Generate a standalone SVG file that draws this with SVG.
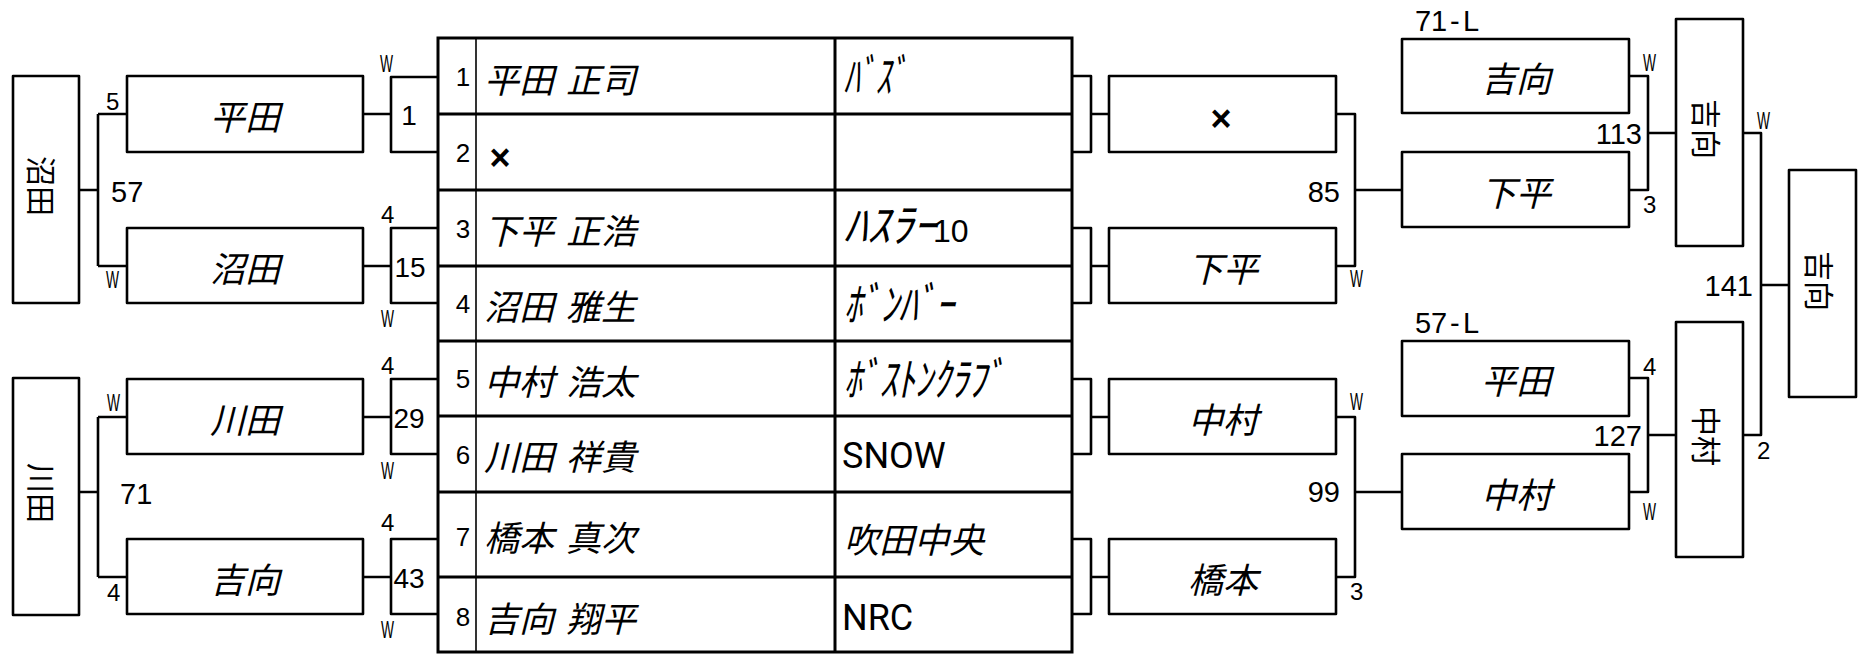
<svg xmlns="http://www.w3.org/2000/svg" width="1860" height="654" viewBox="0 0 1860 654">
<style>
.ln{fill:none;stroke:#000;stroke-width:2.6;stroke-linejoin:round}
.bx{fill:#fff;stroke:#000;stroke-width:2.6;stroke-linejoin:round}
.tb{fill:none;stroke:#000;stroke-width:3}
.thin{fill:none;stroke:#000;stroke-width:1.6}
.nm{font-family:"Noto Sans CJK JP","Noto Sans CJK SC",sans-serif;font-size:35px;font-style:italic;text-anchor:middle;dominant-baseline:central}
.tn{font-family:"Noto Sans CJK JP","Noto Sans CJK SC",sans-serif;font-size:35px;font-style:italic;dominant-baseline:central}
.kn{font-family:"Noto Sans CJK JP","Noto Sans CJK SC",sans-serif;font-size:46px;font-style:italic}
.dg{font-family:"Liberation Sans",Arial,sans-serif;font-size:32px;font-style:normal}
.ro{font-family:Roboto,"Liberation Sans",sans-serif;font-size:36px}
.vt{font-family:"Noto Sans CJK JP","Noto Sans CJK SC",sans-serif;font-size:30px;text-anchor:middle;dominant-baseline:central}
.big{font-family:"Liberation Sans",Arial,sans-serif;font-size:29px}
.end{text-anchor:end}
.sm{font-family:"Liberation Sans",Arial,sans-serif;font-size:24px}
.w{font-family:"Liberation Sans",Arial,sans-serif;font-size:23px}
.bn{font-family:"Liberation Sans",Arial,sans-serif;font-size:28px;text-anchor:middle}
.rn{font-family:"Liberation Sans",Arial,sans-serif;font-size:26px;text-anchor:middle}
.x{font-family:"Liberation Sans",Arial,sans-serif;font-size:36px;font-weight:bold;text-anchor:middle;dominant-baseline:central}
</style>

<g id="connectors">
<path class="ln" d="M79,190H98M98,114V266M98,114H127M98,266H127"/>
<path class="ln" d="M79,492H98M98,417V577M98,417H127M98,577H127"/>
<path class="ln" d="M363,114H391M438,77H391V152H438"/>
<path class="ln" d="M363,266H391M438,228H391V303H438"/>
<path class="ln" d="M363,417H391M438,379H391V454H438"/>
<path class="ln" d="M363,577H391M438,539H391V614H438"/>
<path class="ln" d="M1072,76H1091V152H1072M1091,114H1109"/>
<path class="ln" d="M1072,228H1091V303H1072M1091,266H1109"/>
<path class="ln" d="M1072,379H1091V454H1072M1091,417H1109"/>
<path class="ln" d="M1072,539H1091V614H1072M1091,577H1109"/>
<path class="ln" d="M1336,114H1355V266H1336M1355,190H1402"/>
<path class="ln" d="M1336,417H1355V577H1336M1355,492H1402"/>
<path class="ln" d="M1629,76H1648V190H1629M1648,133H1676"/>
<path class="ln" d="M1629,378H1648V492H1629M1648,435H1676"/>
<path class="ln" d="M1743,133H1761V435H1743M1761,285H1789"/>
</g>

<g id="labels">
<text class="sm" x="106" y="110">5</text>
<text class="w" x="106" y="288" textLength="13" lengthAdjust="spacingAndGlyphs">W</text>
<text class="big" x="111" y="202">57</text>
<text class="w" x="107" y="411" textLength="13" lengthAdjust="spacingAndGlyphs">W</text>
<text class="big" x="120" y="504">71</text>
<text class="sm" x="107" y="601">4</text>

<text class="w" x="380" y="72" textLength="13" lengthAdjust="spacingAndGlyphs">W</text>
<text class="sm" x="381" y="223">4</text>
<text class="w" x="381" y="327" textLength="13" lengthAdjust="spacingAndGlyphs">W</text>
<text class="sm" x="381" y="374">4</text>
<text class="w" x="381" y="479" textLength="13" lengthAdjust="spacingAndGlyphs">W</text>
<text class="sm" x="381" y="531">4</text>
<text class="w" x="381" y="638" textLength="13" lengthAdjust="spacingAndGlyphs">W</text>

<text class="bn" x="409" y="125">1</text>
<text class="bn" x="410" y="277">15</text>
<text class="bn" x="409" y="428">29</text>
<text class="bn" x="409" y="588">43</text>

<text class="big end" x="1340" y="202">85</text>
<text class="w" x="1350" y="287" textLength="13" lengthAdjust="spacingAndGlyphs">W</text>
<text class="w" x="1350" y="410" textLength="13" lengthAdjust="spacingAndGlyphs">W</text>
<text class="big end" x="1340" y="502">99</text>
<text class="sm" x="1350" y="600">3</text>

<text class="big" x="1415 1431 1450 1463" y="31">71-L</text>
<text class="big" x="1415 1431 1450 1463" y="333">57-L</text>

<text class="w" x="1643" y="71" textLength="13" lengthAdjust="spacingAndGlyphs">W</text>
<text class="big end" x="1642" y="144">113</text>
<text class="sm" x="1643" y="213">3</text>
<text class="sm" x="1643" y="375">4</text>
<text class="big end" x="1642" y="446">127</text>
<text class="w" x="1643" y="520" textLength="13" lengthAdjust="spacingAndGlyphs">W</text>

<text class="w" x="1757" y="129" textLength="13" lengthAdjust="spacingAndGlyphs">W</text>
<text class="big end" x="1753" y="296">141</text>
<text class="sm" x="1757" y="459">2</text>
</g>

<g id="block-numata">
<rect class="bx" x="13" y="76" width="66" height="227"/>
<text class="vt" transform="translate(43,186) rotate(90)">沼田</text>
</g>
<g id="block-kawata">
<rect class="bx" x="13" y="378" width="66" height="237"/>
<text class="vt" transform="translate(43,493) rotate(90)">川田</text>
</g>

<g id="r1-hirata"><rect class="bx" x="127" y="76" width="236" height="76"/><text class="nm" x="245" y="114">平田</text></g>
<g id="r1-numata"><rect class="bx" x="127" y="228" width="236" height="75"/><text class="nm" x="245" y="266">沼田</text></g>
<g id="r1-kawata"><rect class="bx" x="127" y="379" width="236" height="75"/><text class="nm" x="245" y="417">川田</text></g>
<g id="r1-yoshimukai"><rect class="bx" x="127" y="539" width="236" height="75"/><text class="nm" x="245" y="577">吉向</text></g>

<g id="table">
<rect class="tb" x="438" y="38" width="634" height="614"/>
<path class="tb" d="M438,114H1072M438,190H1072M438,266H1072M438,341H1072M438,416H1072M438,492H1072M438,577H1072M835,38V652"/>
<path class="thin" d="M476,38V652"/>
<text class="rn" x="463" y="86">1</text>
<text class="rn" x="463" y="162">2</text>
<text class="rn" x="463" y="238">3</text>
<text class="rn" x="463" y="313">4</text>
<text class="rn" x="463" y="388">5</text>
<text class="rn" x="463" y="464">6</text>
<text class="rn" x="463" y="546">7</text>
<text class="rn" x="463" y="626">8</text>

<text class="tn" x="484" y="77">平田 <tspan x="566">正司</tspan></text>
<text class="x" x="500" y="157">×</text>
<text class="tn" x="484" y="228">下平 <tspan x="566">正浩</tspan></text>
<text class="tn" x="484" y="304">沼田 <tspan x="566">雅生</tspan></text>
<text class="tn" x="484" y="379">中村 <tspan x="566">浩太</tspan></text>
<text class="tn" x="484" y="454">川田 <tspan x="566">祥貴</tspan></text>
<text class="tn" x="484" y="535">橋本 <tspan x="566">真次</tspan></text>
<text class="tn" x="484" y="616">吉向 <tspan x="566">翔平</tspan></text>

<text class="kn" x="844" y="93" textLength="63" lengthAdjust="spacingAndGlyphs">ﾊﾞｽﾞ</text>
<text class="kn" x="844" y="242">ﾊｽﾗｰ<tspan class="dg" x="933" font-size="32">10</tspan></text>
<text class="kn" x="844" y="321" textLength="110" lengthAdjust="spacingAndGlyphs">ﾎﾞﾝﾊﾞｰ</text>
<text class="kn" x="844" y="396" textLength="160" lengthAdjust="spacingAndGlyphs">ﾎﾞｽﾄﾝｸﾗﾌﾞ</text>
<text class="ro" x="842" y="468">SNOW</text>
<text class="tn" x="844" y="537">吹田中央</text>
<text class="ro" x="842" y="630">NRC</text>
</g>

<g id="r2-x"><rect class="bx" x="1109" y="76" width="227" height="76"/><text class="x" x="1221" y="118">×</text></g>
<g id="r2-shimohira"><rect class="bx" x="1109" y="228" width="227" height="75"/><text class="nm" x="1223" y="266">下平</text></g>
<g id="r2-nakamura"><rect class="bx" x="1109" y="379" width="227" height="75"/><text class="nm" x="1223" y="417">中村</text></g>
<g id="r2-hashimoto"><rect class="bx" x="1109" y="539" width="227" height="75"/><text class="nm" x="1223" y="577">橋本</text></g>

<g id="r3-yoshimukai"><rect class="bx" x="1402" y="39" width="227" height="74"/><text class="nm" x="1516" y="76">吉向</text></g>
<g id="r3-shimohira"><rect class="bx" x="1402" y="152" width="227" height="75"/><text class="nm" x="1516" y="190">下平</text></g>
<g id="r3-hirata"><rect class="bx" x="1402" y="341" width="227" height="75"/><text class="nm" x="1516" y="378">平田</text></g>
<g id="r3-nakamura"><rect class="bx" x="1402" y="454" width="227" height="75"/><text class="nm" x="1516" y="492">中村</text></g>

<g id="r4-yoshimukai"><rect class="bx" x="1676" y="19" width="67" height="227"/><text class="vt" transform="translate(1708,129) rotate(90)">吉向</text></g>
<g id="r4-nakamura"><rect class="bx" x="1676" y="322" width="67" height="235"/><text class="vt" transform="translate(1708,436) rotate(90)">中村</text></g>
<g id="final-yoshimukai"><rect class="bx" x="1789" y="170" width="67" height="227"/><text class="vt" transform="translate(1821,281) rotate(90)">吉向</text></g>
</svg>
